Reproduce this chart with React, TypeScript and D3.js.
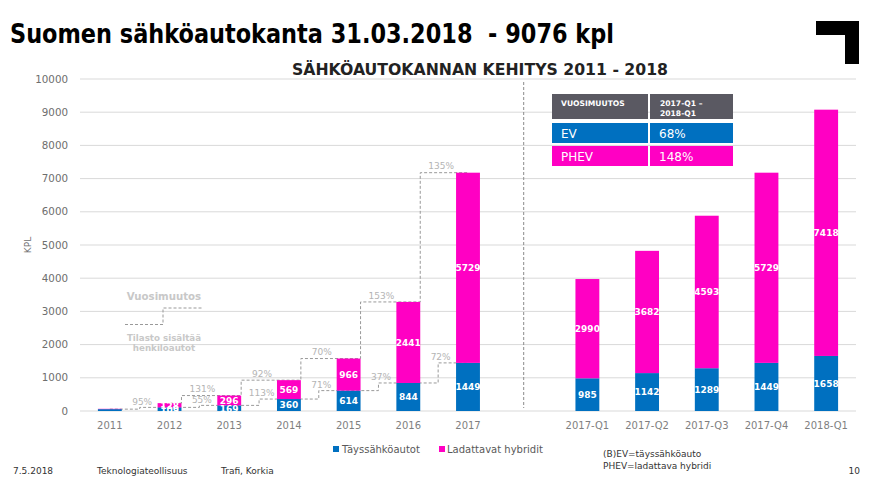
import React from "react";
import * as d3 from "d3";

const categories = ["2011", "2012", "2013", "2014", "2015", "2016", "2017", "", "2017-Q1", "2017-Q2", "2017-Q3", "2017-Q4", "2018-Q1"];
const evValues: (number | null)[] = [56, 109, 169, 360, 614, 844, 1449, null, 985, 1142, 1289, 1449, 1658];
const phevValues: (number | null)[] = [10, 128, 296, 569, 966, 2441, 5729, null, 2990, 3682, 4593, 5729, 7418];
const evGrowth: (string | null)[] = [null, "95%", "55%", "113%", "71%", "37%", "72%"];
const phevGrowth: (string | null)[] = [null, null, "131%", "92%", "70%", "153%", "135%"];
const yTicks = [0, 1000, 2000, 3000, 4000, 5000, 6000, 7000, 8000, 9000, 10000];
const tableHeader = ["VUOSIMUUTOS", "2017-Q1 –", "2018-Q1"];
const tableLabels = ["EV", "PHEV"];
const tableValues = ["68%", "148%"];
const seriesNames = ["Täyssähköautot", "Ladattavat hybridit"];

const BLUE = "#0070c0";
const PINK = "#ff00c3";
const FONT = "DejaVu Sans, Verdana, sans-serif";

export default function App() {
  const W = 875, H = 483;
  const x = d3.scaleBand<number>().domain(categories.map((_, i) => i)).range([80, 856]).paddingInner(0.6).paddingOuter(0.3);
  const y = d3.scaleLinear().domain([0, 10000]).range([411, 79]);
  const bw = x.bandwidth();
  const step = x.step();
  const cx = (i: number) => (x(i) as number) + bw / 2;
  const boundary = (i: number) => cx(i) + step / 2;
  const annual = [0, 1, 2, 3, 4, 5, 6];

  // EV step line: steps at band boundaries
  const evPts: [number, number][] = [];
  annual.forEach((i) => {
    const v = evValues[i] as number;
    if (i === 0) evPts.push([cx(i), y(v)]);
    else evPts.push([boundary(i - 1), y(v)]);
    if (i < 6) evPts.push([boundary(i), y(v)]);
    else evPts.push([cx(i), y(v)]);
  });
  // total step line: steps at right edge of previous bar
  const tot = (i: number) => (evValues[i] as number) + (phevValues[i] as number);
  const totPts: [number, number][] = [];
  annual.slice(1).forEach((i) => {
    if (i === 1) totPts.push([cx(i), y(tot(i))]);
    else totPts.push([cx(i - 1) + bw / 2, y(tot(i))]);
    if (i < 6) totPts.push([cx(i) + bw / 2, y(tot(i))]);
    else totPts.push([cx(i), y(tot(i))]);
  });
  const line = d3.line();

  const legendDash: [number, number][] = [[125, 324.5], [163, 324.5], [163, 308], [202, 308]];

  return (
    <svg width={W} height={H} style={{ position: "absolute", left: 0, top: 0, background: "#fff" }} fontFamily={FONT}>
      <text x={10} y={43} fontSize={26} fontWeight="bold" fill="#000" textLength={604} lengthAdjust="spacingAndGlyphs" style={{ whiteSpace: "pre" }}>
        {"Suomen sähköautokanta 31.03.2018  - 9076 kpl"}
      </text>
      <path d="M816,21 H859 V64 H845 V35 H816 Z" fill="#000" />
      <text x={292} y={75} fontSize={16} fontWeight="bold" fill="#222" textLength={376} lengthAdjust="spacingAndGlyphs">
        SÄHKÖAUTOKANNAN KEHITYS 2011 - 2018
      </text>

      {yTicks.map((t) => (
        <g key={t}>
          <line x1={80} x2={856} y1={y(t)} y2={y(t)} stroke="#d9d9d9" strokeWidth={1} />
          <text x={68} y={y(t)} dy="0.35em" textAnchor="end" fontSize={10.3} fill="#6e6e6e">{t}</text>
        </g>
      ))}
      <text transform="translate(31,245) rotate(-90)" textAnchor="middle" fontSize={9} fill="#6e6e6e">KPL</text>

      <line x1={cx(7) - 4} x2={cx(7) - 4} y1={82} y2={408} stroke="#8a8a8a" strokeDasharray="3,2" strokeWidth={1} />

      <path d={line(evPts) || ""} fill="none" stroke="#999" strokeDasharray="3,2" strokeWidth={1} />
      <path d={line(totPts) || ""} fill="none" stroke="#999" strokeDasharray="3,2" strokeWidth={1} />

      {categories.map((c, i) => {
        const ev = evValues[i];
        const ph = phevValues[i];
        if (ev == null || ph == null) return null;
        return (
          <g key={c}>
            <rect x={x(i)} width={bw} y={y(ev)} height={y(0) - y(ev)} fill={BLUE} />
            <rect x={x(i)} width={bw} y={y(ev + ph)} height={y(ev) - y(ev + ph)} fill={PINK} />
          </g>
        );
      })}
      {categories.map((c, i) => {
        const ev = evValues[i];
        const ph = phevValues[i];
        if (ev == null || ph == null || i === 0) return null;
        return (
          <g key={"l" + c} fontSize={9} fontWeight="bold" fill="#fff" textAnchor="middle">
            <text x={cx(i)} y={(y(0) + y(ev)) / 2} dy="0.38em">{ev}</text>
            <text x={cx(i)} y={(y(ev) + y(ev + ph)) / 2} dy="0.38em">{ph}</text>
          </g>
        );
      })}

      {annual.map((i) =>
        evGrowth[i] ? (
          <text key={"eg" + i} x={boundary(i - 1) + 2.5} y={y(evValues[i] as number) - 6} dy="0.35em" textAnchor="middle" fontSize={9} fill="#b4b4b4">{evGrowth[i]}</text>
        ) : null
      )}
      {annual.map((i) =>
        phevGrowth[i] ? (
          <text key={"pg" + i} x={boundary(i - 1) + 3} y={y(tot(i)) - 6.5} dy="0.35em" textAnchor="middle" fontSize={9} fill="#b4b4b4">{phevGrowth[i]}</text>
        ) : null
      )}

      {categories.map((c, i) => (
        <text key={"x" + i} x={cx(i)} y={429} textAnchor="middle" fontSize={10} fill="#7f7f7f">{c}</text>
      ))}

      <text x={164} y={300} textAnchor="middle" fontSize={10.2} fontWeight="bold" fill="#c8c8c8">Vuosimuutos</text>
      <path d={line(legendDash) || ""} fill="none" stroke="#999" strokeDasharray="3,2" strokeWidth={1} />
      <text x={164} y={340.5} textAnchor="middle" fontSize={8.7} fontWeight="bold" fill="#c8c8c8">Tilasto sisältää</text>
      <text x={164} y={351} textAnchor="middle" fontSize={8.7} fontWeight="bold" fill="#c8c8c8">henkilöautot</text>

      <rect x={552} y={94} width={96} height={25} fill="#5a5962" />
      <rect x={650} y={94} width={83} height={25} fill="#5a5962" />
      <text x={561} y={106} fontSize={7.6} fontWeight="bold" fill="#fff">{tableHeader[0]}</text>
      <text x={660} y={106} fontSize={7.6} fontWeight="bold" fill="#fff">{tableHeader[1]}</text>
      <text x={660} y={116} fontSize={7.6} fontWeight="bold" fill="#fff">{tableHeader[2]}</text>
      {tableLabels.map((lab, k) => (
        <g key={lab}>
          <rect x={552} y={123 + k * 23} width={96} height={20} fill={k === 0 ? BLUE : PINK} />
          <rect x={650} y={123 + k * 23} width={83} height={20} fill={k === 0 ? BLUE : PINK} />
          <text x={561} y={137.5 + k * 23} fontSize={12} fill="#fff">{lab}</text>
          <text x={659} y={137.5 + k * 23} fontSize={12} fill="#fff">{tableValues[k]}</text>
        </g>
      ))}

      <rect x={333} y={446} width={6} height={6} fill={BLUE} />
      <text x={342} y={452.5} fontSize={10} fill="#595959">{seriesNames[0]}</text>
      <rect x={439} y={446} width={6} height={6} fill={PINK} />
      <text x={447} y={452.5} fontSize={10} fill="#595959">{seriesNames[1]}</text>

      <text x={603} y={457} fontSize={9} fill="#333">(B)EV=täyssähköauto</text>
      <text x={603} y={469} fontSize={9} fill="#333">PHEV=ladattava hybridi</text>

      <g fontSize={9} fill="#333">
        <text x={13} y={474}>7.5.2018</text>
        <text x={97} y={474}>Teknologiateollisuus</text>
        <text x={221} y={474}>Trafi, Korkia</text>
        <text x={860} y={474} textAnchor="end">10</text>
      </g>
    </svg>
  );
}
